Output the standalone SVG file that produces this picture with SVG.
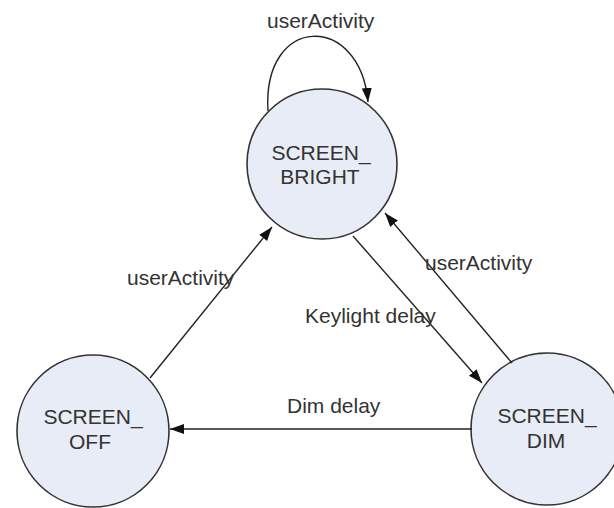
<svg xmlns="http://www.w3.org/2000/svg" width="614" height="508" viewBox="0 0 614 508">
<style>
.node{fill:#e8ecf6;stroke:#333;stroke-width:1.6}
.nt{font-family:"Liberation Sans",Arial,sans-serif;font-size:21px;fill:#333;text-anchor:middle}
.lbl{font-family:"Liberation Sans",Arial,sans-serif;font-size:21px;fill:#333}
.edge{fill:none;stroke:#222;stroke-width:1.4;marker-end:url(#arr)}
</style>
<defs>
<marker id="arr" markerUnits="userSpaceOnUse" markerWidth="15" markerHeight="11" refX="14" refY="5" orient="auto">
<path d="M0,0 L14,5 L0,10 z" fill="#111"/>
</marker>
</defs>
<rect width="614" height="508" fill="#fff"/>
<g id="bright">
<circle class="node" cx="322" cy="164" r="75"/>
<text class="nt" x="321" y="160">SCREEN_</text>
<text class="nt" x="320" y="184">BRIGHT</text>
</g>
<g id="off">
<circle class="node" cx="93" cy="431" r="76"/>
<text class="nt" x="93" y="424">SCREEN_</text>
<text class="nt" x="90" y="449">OFF</text>
</g>
<g id="dim">
<circle class="node" cx="547" cy="429" r="76"/>
<text class="nt" x="547" y="423">SCREEN_</text>
<text class="nt" x="546" y="448">DIM</text>
</g>
<g id="connectors">
<path class="edge" d="M268,111 C262,14 360,12 368,102"/>
<line class="edge" x1="150" y1="378" x2="272" y2="227"/>
<line class="edge" x1="353" y1="236" x2="482" y2="383"/>
<line class="edge" x1="512" y1="363" x2="385" y2="213"/>
<line class="edge" x1="472" y1="429" x2="170" y2="429"/>
</g>
<g id="labels">
<text class="lbl" x="267" y="28">userActivity</text>
<text class="lbl" x="127" y="285">userActivity</text>
<text class="lbl" x="425" y="270">userActivity</text>
<text class="lbl" x="305" y="323">Keylight delay</text>
<text class="lbl" x="287" y="413">Dim delay</text>
</g>
</svg>
